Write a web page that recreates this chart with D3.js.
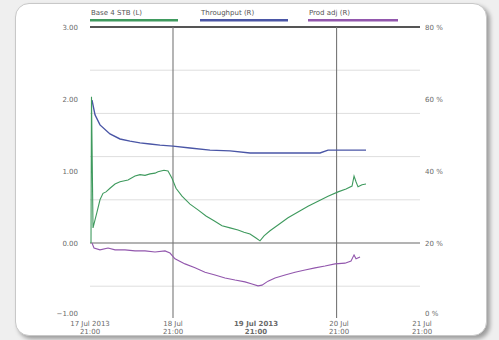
<!DOCTYPE html>
<html>
<head>
<meta charset="utf-8">
<script src="https://cdn.jsdelivr.net/npm/d3@7"></script>
<style>
  html, body { margin: 0; padding: 0; background: #efefef; }
  #card {
    position: absolute; left: 15px; top: 3px; width: 470px; height: 331px;
    background: #fff; border: 1px solid #c8c8c8; border-radius: 14px;
    box-shadow: 3px 3px 4px rgba(0,0,0,0.35);
  }
  svg { position: absolute; left: 0; top: 0; }
  text { font-family: "DejaVu Sans", sans-serif; font-size: 7px; fill: #6a6a6a; }
</style>
</head>
<body>
<div id="card"></div>
<svg width="499" height="340"></svg>
<script>
// hours since start
var greenHours = [0.29,0.43,0.87,2.02,2.89,3.76,4.63,5.78,7.23,8.68,10.99,13.01,14.46,15.91,17.35,18.80,19.66,21.40,22.56,23.71,24.87,26.60,28.92,31.23,33.54,35.86,38.17,40.49,42.80,44.53,46.27,48.00,49.16,50.32,52.05,54.37,57.26,60.15,63.04,65.93,68.83,71.72,74.03,75.77,76.35,76.92,77.50,78.66,79.81];
var greenValues = [0.00,2.03,0.21,0.43,0.60,0.69,0.71,0.76,0.82,0.85,0.875,0.93,0.95,0.94,0.96,0.97,0.99,1.01,1.00,0.90,0.76,0.65,0.54,0.46,0.375,0.31,0.24,0.21,0.18,0.15,0.125,0.07,0.03,0.10,0.17,0.25,0.35,0.43,0.51,0.58,0.65,0.71,0.75,0.79,0.93,0.85,0.78,0.81,0.82];

var blueHours = [0.58,1.45,2.89,5.78,8.68,11.57,14.46,17.35,20.24,24.00,28.92,34.70,40.49,46.27,54.95,66.51,68.83,79.81];
var blueValues = [59.7,55.6,52.8,50.3,48.9,48.3,47.8,47.5,47.2,46.9,46.4,45.8,45.6,45.0,45.0,45.0,45.8,45.8];

var purpleHours = [0.58,1.16,2.89,5.21,7.23,10.12,13.01,15.91,18.80,21.69,23.13,24.58,27.47,30.36,33.26,36.15,39.04,41.93,44.82,46.85,48.58,49.74,51.48,53.50,56.39,59.28,62.17,65.07,67.96,70.85,73.74,75.48,76.35,76.92,78.08];
var purpleValues = [20.0,18.6,18.1,18.6,18.1,18.1,17.8,17.8,17.5,17.8,17.2,15.6,14.2,13.1,11.9,11.1,10.3,9.7,9.2,8.6,8.1,8.3,9.4,10.3,11.1,11.9,12.5,13.1,13.6,14.2,14.4,15.0,16.7,15.6,16.1];

var seriesNames = ["Base 4 STB (L)", "Throughput (R)", "Prod adj (R)"];
var seriesColors = ["#3f9a5e", "#4a56a6", "#9257ad"];

var leftTicks = [-1, 0, 1, 2, 3];
var rightTicks = [0, 20, 40, 60, 80];
var xTicks = [0, 24, 48, 72, 96];
var xTickLine1 = ["17 Jul 2013", "18 Jul", "19 Jul 2013", "20 Jul", "21 Jul"];
var xTickLine2 = ["21:00", "21:00", "21:00", "21:00", "21:00"];
var markerHours = [24, 71.3];

var svg = d3.select("svg");

var x = d3.scaleLinear().domain([0, 96]).range([90, 422]);
var yL = d3.scaleLinear().domain([-1, 3]).range([315, 27]);
var yR = d3.scaleLinear().domain([0, 80]).range([315, 27]);

// light gridlines every 0.6 on the left scale
var grid = d3.range(-0.6, 2.9, 0.6);
svg.append("g").selectAll("line").data(grid).enter().append("line")
  .attr("x1", 90).attr("x2", 420)
  .attr("y1", d => yL(d)).attr("y2", d => yL(d))
  .attr("stroke", d => Math.abs(d) < 1e-6 ? "#9a9a9a" : "#dedede")
  .attr("stroke-width", d => Math.abs(d) < 1e-6 ? 1.3 : 1);

// top rule
svg.append("line").attr("x1", 90).attr("x2", 420)
  .attr("y1", yL(3)).attr("y2", yL(3))
  .attr("stroke", "#555").attr("stroke-width", 2);

// vertical markers
svg.append("g").selectAll("line").data(markerHours).enter().append("line")
  .attr("x1", d => x(d)).attr("x2", d => x(d))
  .attr("y1", yL(3)).attr("y2", 318)
  .attr("stroke", "#777").attr("stroke-width", 1.1);

// axes
svg.append("g").selectAll("text").data(leftTicks).enter().append("text")
  .attr("x", 78).attr("y", d => yL(d) + (d === -1 ? 1 : 3))
  .attr("text-anchor", "end")
  .text(d => d3.format(".2f")(d));

svg.append("g").selectAll("text").data(rightTicks).enter().append("text")
  .attr("x", 425).attr("y", d => yR(d) + (d === 0 ? 1 : 3))
  .text(d => d + " %");

var xt = svg.append("g").selectAll("g").data(xTicks).enter().append("g");
xt.append("text").attr("x", d => x(d)).attr("y", 326).attr("text-anchor", "middle")
  .style("font-weight", (d, i) => i === 2 ? "bold" : "normal")
  .text((d, i) => xTickLine1[i]);
xt.append("text").attr("x", d => x(d)).attr("y", 334).attr("text-anchor", "middle")
  .style("font-weight", (d, i) => i === 2 ? "bold" : "normal")
  .text((d, i) => xTickLine2[i]);

// lines
function draw(hours, values, scale, color, w) {
  var pts = hours.map((h, i) => [h, values[i]]);
  svg.append("path").datum(pts)
    .attr("fill", "none").attr("stroke", color).attr("stroke-width", w)
    .attr("d", d3.line().x(d => x(d[0])).y(d => scale(d[1])));
}
draw(purpleHours, purpleValues, yR, seriesColors[2], 1.1);
draw(blueHours, blueValues, yR, seriesColors[1], 1.4);
draw(greenHours, greenValues, yL, seriesColors[0], 1.1);

// legend
var legendX = [90, 200, 308];
var legendW = [88, 88, 90];
var lg = svg.append("g").selectAll("g").data(seriesNames).enter().append("g");
lg.append("text").attr("x", (d, i) => legendX[i] + 1).attr("y", 15)
  .style("fill", "#555").text(d => d);
lg.append("rect").attr("x", (d, i) => legendX[i]).attr("y", 19)
  .attr("width", (d, i) => legendW[i]).attr("height", 2.5)
  .attr("fill", (d, i) => seriesColors[i]);
</script>
</body>
</html>
